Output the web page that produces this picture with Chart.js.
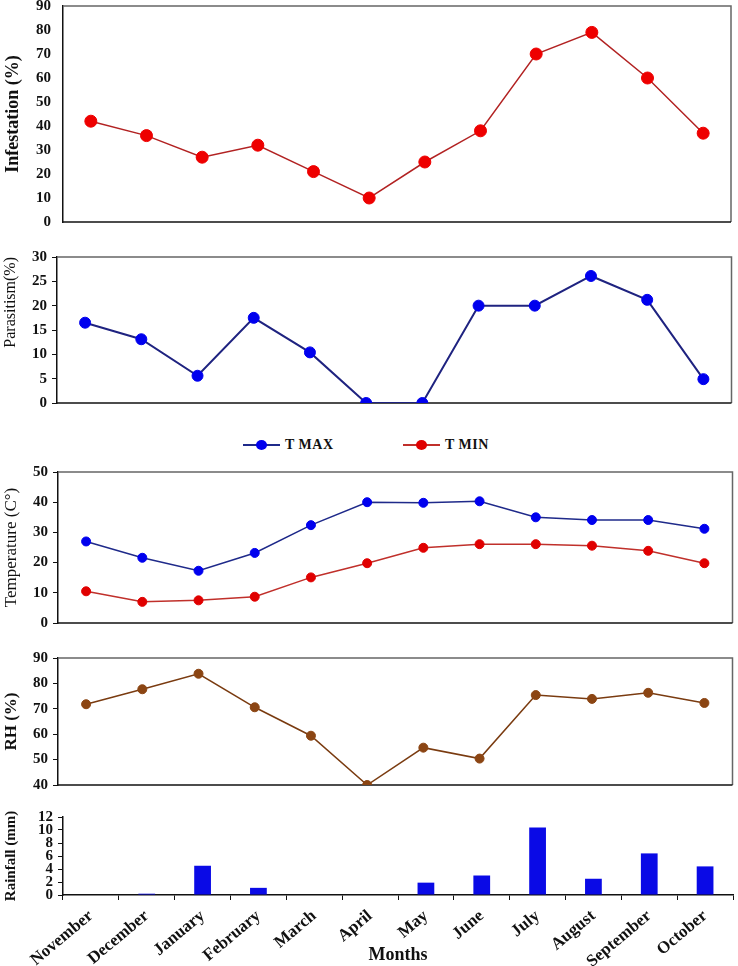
<!DOCTYPE html>
<html>
<head>
<meta charset="utf-8">
<script src="https://cdn.jsdelivr.net/npm/chart.js@4.4.1/dist/chart.umd.min.js"></script>
<style>
  html, body { margin: 0; padding: 0; background: #fff; }
  #page { position: relative; width: 738px; height: 966px; overflow: hidden; }
  #page canvas { position: absolute; left: 0; }
  #legend { position: absolute; top: 437px; left: 0; width: 738px; height: 16px;
            font: bold 14px "Liberation Serif", "Times New Roman", serif; color: #111; }
  .item { position: absolute; top: 0; line-height: 16px; white-space: nowrap; padding-left: 42px; letter-spacing: 0.5px; }
  .sym { position: absolute; left: 0; top: 7px; width: 37px; height: 2px; }
  .sym i { position: absolute; left: 13px; top: -4px; width: 11px; height: 10px; border-radius: 50%; }
</style>
</head>
<body>
<div id="page">
  <canvas id="infChart" width="738" height="258" style="top:-15px"></canvas>
  <canvas id="parChart" width="738" height="174" style="top:243px"></canvas>
  <div id="legend">
    <span class="item" style="left:243px"><span class="sym" style="background:#1f2a8a"><i style="background:#0000ee"></i></span>T MAX</span>
    <span class="item" style="left:403px"><span class="sym" style="background:#c0302b"><i style="background:#e00000"></i></span>T MIN</span>
  </div>
  <canvas id="tempChart" width="738" height="179" style="top:458px"></canvas>
  <canvas id="rhChart" width="738" height="155" style="top:644px"></canvas>
  <canvas id="rainChart" width="738" height="163" style="top:803px"></canvas>
</div>
<script>
// Monthly data, November to October
const months = ['November', 'December', 'January', 'February', 'March', 'April', 'May', 'June', 'July', 'August', 'September', 'October'];
const infestation = [42, 36, 27, 32, 21, 10, 25, 38, 70, 79, 60, 37];
const parasitism = [16.5, 13.1, 5.6, 17.5, 10.4, 0, 0, 20, 20, 26.1, 21.2, 4.9];
const tMax = [27, 21.6, 17.3, 23.2, 32.4, 40, 39.8, 40.3, 35, 34.1, 34.1, 31.2];
const tMin = [10.5, 7, 7.5, 8.7, 15.1, 19.8, 24.9, 26.1, 26.1, 25.6, 23.9, 19.8];
const rh = [71.8, 77.7, 83.8, 70.6, 59.4, 40, 54.7, 50.4, 75.4, 73.9, 76.3, 72.3];
const rainfall = [0, 0.2, 4.5, 1.1, 0, 0, 1.9, 3, 10.4, 2.5, 6.4, 4.4];

const serif = '"Liberation Serif", "Times New Roman", serif';
const ink = '#111';

// box round the plot area (top/right grey, bottom dark)
const framePlugin = {
    id: 'frame',
    beforeDatasetsDraw(chart) {
        const { ctx, chartArea: a } = chart;
        ctx.save();
        ctx.lineWidth = 1.5;
        ctx.strokeStyle = '#666';
        ctx.beginPath();
        ctx.moveTo(a.left, a.top);
        ctx.lineTo(a.right, a.top);
        ctx.lineTo(a.right, a.bottom);
        ctx.stroke();
        ctx.strokeStyle = ink;
        ctx.beginPath();
        ctx.moveTo(a.left, a.bottom);
        ctx.lineTo(a.right, a.bottom);
        ctx.stroke();
        ctx.restore();
    }
};

function yAxis(min, max, step, title, titleFont, titlePad, width, showTicks, align) {
    return {
        min: min,
        max: max,
        afterFit: s => { s.width = width; },
        border: { display: true, color: ink, width: 1.5 },
        grid: { display: true, drawOnChartArea: false, drawTicks: showTicks, tickLength: 5, color: ink },
        ticks: {
            stepSize: step,
            autoSkip: false,
            color: ink,
            padding: showTicks ? 5 : 12,
            font: { family: serif, size: 15, weight: 'bold' }
        },
        title: {
            display: true,
            text: title,
            color: ink,
            align: align || 'center',
            font: titleFont,
            padding: { top: titlePad, bottom: 0 }
        }
    };
}

function lineSet(data, lineColor, pointColor, radius, width) {
    return {
        data: data,
        borderColor: lineColor,
        borderWidth: width,
        pointBackgroundColor: pointColor,
        pointBorderColor: pointColor,
        pointRadius: radius,
        pointBorderWidth: 1,
        tension: 0
    };
}

function makeLineChart(id, datasets, y) {
    return new Chart(document.getElementById(id), {
        type: 'line',
        data: { labels: months, datasets: datasets },
        options: {
            responsive: false,
            animation: false,
            events: [],
            layout: { padding: { top: 0, bottom: 0, left: 0, right: 5 } },
            plugins: { legend: { display: false }, tooltip: { enabled: false } },
            scales: {
                x: { type: 'category', offset: true, display: false },
                y: y
            }
        },
        plugins: [framePlugin]
    });
}

makeLineChart('infChart',
    [lineSet(infestation, '#b22222', '#ee0000', 6, 1.5)],
    yAxis(0, 90, 10, 'Infestation (%)', { family: serif, size: 18, weight: 'bold' }, 3, 63, false));

makeLineChart('parChart',
    [lineSet(parasitism, '#1f2380', '#0000ee', 5.5, 2)],
    yAxis(0, 30, 5, 'Parasitism(%)', { family: serif, size: 16, weight: 'normal' }, 1.5, 57, true, 'end'));

makeLineChart('tempChart',
    [lineSet(tMax, '#1f2a8a', '#0000ee', 4.5, 1.5), lineSet(tMin, '#c0302b', '#e00000', 4.5, 1.5)],
    yAxis(0, 50, 10, 'Temperature (C°)', { family: serif, size: 17, weight: 'normal' }, 1, 58, true));

makeLineChart('rhChart',
    [lineSet(rh, '#7a3b10', '#8b4513', 4.5, 1.5)],
    yAxis(40, 90, 10, 'RH (%)', { family: serif, size: 17, weight: 'bold' }, 1, 58, true));

new Chart(document.getElementById('rainChart'), {
    type: 'bar',
    data: {
        labels: months,
        datasets: [{
            data: rainfall,
            backgroundColor: '#0a0ae6',
            barPercentage: 0.3,
            categoryPercentage: 1
        }]
    },
    options: {
        responsive: false,
        animation: false,
        events: [],
        layout: { padding: { top: 0, bottom: 0, left: 0, right: 5 } },
        plugins: { legend: { display: false }, tooltip: { enabled: false } },
        scales: {
            x: {
                offset: true,
                afterFit: s => { s.height = 71; },
                border: { display: true, color: ink, width: 1.5 },
                grid: { display: true, offset: true, drawOnChartArea: false, drawTicks: true, tickLength: 5, color: ink },
                ticks: {
                    minRotation: 40,
                    maxRotation: 40,
                    autoSkip: false,
                    padding: 6,
                    color: ink,
                    font: { family: serif, size: 17, weight: 'bold' }
                },
                title: {
                    display: true,
                    text: 'Months',
                    color: ink,
                    font: { family: serif, size: 18, weight: 'bold' },
                    padding: 0
                }
            },
            y: yAxis(0, 12, 2, 'Rainfall (mm)', { family: serif, size: 15, weight: 'bold' }, 2, 63, true)
        }
    }
});
</script>
</body>
</html>
